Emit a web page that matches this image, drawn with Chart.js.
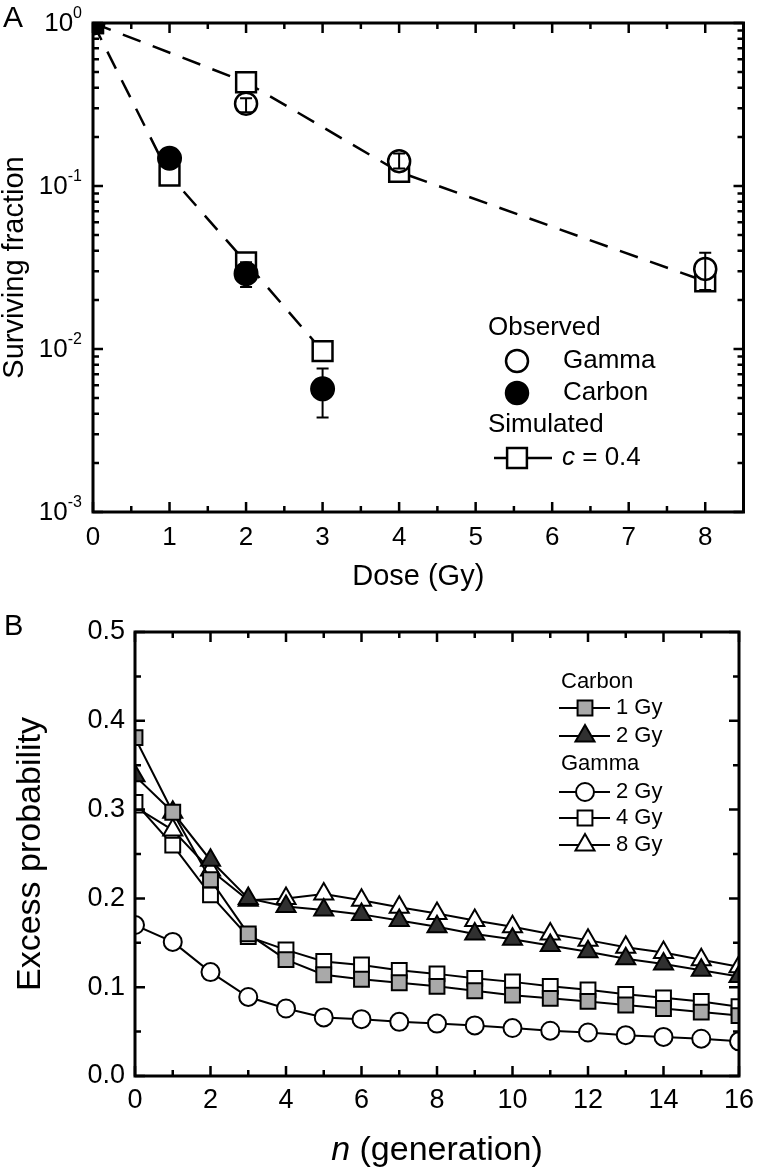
<!DOCTYPE html>
<html>
<head>
<meta charset="utf-8">
<script src="https://cdn.jsdelivr.net/npm/chart.js@4.4.0/dist/chart.umd.min.js"></script>
<style>
  html, body { margin: 0; padding: 0; background: #fff; }
  #wrap { position: relative; width: 760px; height: 1174px; }
  canvas { position: absolute; left: 0; }
  #chartA { top: 0; }
  #chartB { top: 600px; }
</style>
</head>
<body>
<div id="wrap">
  <canvas id="chartA" width="760" height="600"></canvas>
  <canvas id="chartB" width="760" height="574"></canvas>
</div>
<script>
const FONT = "'Liberation Sans', Arial, Helvetica, sans-serif";

// ---- panel A : surviving fraction ----
const doseGamma  = [0, 2, 4, 8];
const doseCarbon = [0, 1, 2, 3];
const obsGamma    = [1, 0.32, 0.142, 0.031];
const obsGammaLo  = [1, 0.283, 0.128, 0.023];
const obsGammaHi  = [1, 0.345, 0.158, 0.039];
const obsCarbon   = [1, 0.148, 0.029, 0.0057];
const obsCarbonLo = [1, 0.137, 0.024, 0.0038];
const obsCarbonHi = [1, 0.160, 0.034, 0.0076];
const simGamma  = [1, 0.433, 0.122, 0.026];
const simCarbon = [1, 0.116, 0.034, 0.0097];
const doseTicks   = [0, 1, 2, 3, 4, 5, 6, 7, 8];
const sfExponents = [0, -1, -2, -3];

// ---- panel B : excess probability ----
const generations = [0, 1, 2, 3, 4, 5, 6, 7, 8, 9, 10, 11, 12, 13, 14, 15, 16];
const carbon1Gy = [0.381, 0.297, 0.221, 0.160, 0.131, 0.114, 0.109, 0.105, 0.101, 0.096, 0.091, 0.0875, 0.084, 0.080, 0.076, 0.072, 0.068];
const carbon2Gy = [0.338, 0.297, 0.243, 0.200, 0.191, 0.187, 0.182, 0.175, 0.168, 0.160, 0.154, 0.147, 0.140, 0.132, 0.126, 0.119, 0.112];
const gamma2Gy  = [0.170, 0.151, 0.117, 0.089, 0.076, 0.066, 0.064, 0.061, 0.059, 0.057, 0.054, 0.051, 0.049, 0.046, 0.044, 0.042, 0.039];
const gamma4Gy  = [0.308, 0.260, 0.204, 0.157, 0.142, 0.129, 0.125, 0.119, 0.115, 0.110, 0.106, 0.101, 0.097, 0.092, 0.088, 0.084, 0.078];
const gamma8Gy  = [0.303, 0.277, 0.232, 0.198, 0.200, 0.205, 0.198, 0.190, 0.183, 0.175, 0.168, 0.160, 0.153, 0.145, 0.139, 0.131, 0.123];
const seriesGroups = ['Carbon', 'Carbon', 'Gamma', 'Gamma', 'Gamma'];
const seriesLabels = ['1 Gy', '2 Gy', '2 Gy', '4 Gy', '8 Gy'];
const genTicks  = [0, 2, 4, 6, 8, 10, 12, 14, 16];
const probTicks = [0, 0.1, 0.2, 0.3, 0.4, 0.5];

function pts(xs, ys){ return xs.map((x, i) => ({ x: x, y: ys[i] })); }

function txt(ctx, s, x, y, size, align, italic){
  ctx.font = (italic ? 'italic ' : '') + size + 'px ' + FONT;
  ctx.textAlign = align || 'left';
  ctx.textBaseline = 'middle';
  ctx.fillStyle = '#000';
  ctx.fillText(s, x, y);
}

function marker(ctx, style, x, y, r, fill, lw){
  ctx.save();
  ctx.fillStyle = fill; ctx.strokeStyle = '#000'; ctx.lineWidth = lw || 2;
  ctx.beginPath();
  if (style === 'circle') ctx.arc(x, y, r, 0, Math.PI * 2);
  else if (style === 'rect') { const s = r * Math.SQRT1_2; ctx.rect(x - s, y - s, 2 * s, 2 * s); }
  else {
    ctx.moveTo(x, y - r);
    ctx.lineTo(x + r * Math.sin(2 * Math.PI / 3), y - r * Math.cos(2 * Math.PI / 3));
    ctx.lineTo(x + r * Math.sin(4 * Math.PI / 3), y - r * Math.cos(4 * Math.PI / 3));
    ctx.closePath();
  }
  ctx.fill(); ctx.stroke();
  ctx.restore();
}

// inward ticks on all four sides
function ticks(chart, xv, yv, len){
  const { ctx, chartArea: a, scales: { x, y } } = chart;
  ctx.beginPath();
  xv.forEach(v => {
    const p = x.getPixelForValue(v);
    ctx.moveTo(p, a.bottom); ctx.lineTo(p, a.bottom - len);
    ctx.moveTo(p, a.top);    ctx.lineTo(p, a.top + len);
  });
  yv.forEach(v => {
    const p = y.getPixelForValue(v);
    ctx.moveTo(a.left, p);  ctx.lineTo(a.left + len, p);
    ctx.moveTo(a.right, p); ctx.lineTo(a.right - len, p);
  });
  ctx.stroke();
}

function frame(chart){
  const { ctx, chartArea: a } = chart;
  ctx.strokeStyle = '#000';
  ctx.lineWidth = 3;
  ctx.strokeRect(a.left, a.top, a.right - a.left, a.bottom - a.top);
  ctx.lineWidth = 2.5;
}

function rotated(ctx, s, x, y, size){
  ctx.save();
  ctx.translate(x, y); ctx.rotate(-Math.PI / 2);
  txt(ctx, s, 0, 0, size, 'center');
  ctx.restore();
}

// ---------- panel A ----------
const errorBars = {
  id: 'errorBars',
  afterDatasetsDraw(chart){
    const { ctx, chartArea: a, scales: { x, y } } = chart;
    const sets = [[doseGamma, obsGammaLo, obsGammaHi], [doseCarbon, obsCarbonLo, obsCarbonHi]];
    ctx.save();
    ctx.beginPath(); ctx.rect(a.left, a.top, a.right - a.left, a.bottom - a.top); ctx.clip();
    ctx.strokeStyle = '#000'; ctx.lineWidth = 2;
    sets.forEach(([xs, lo, hi]) => {
      xs.forEach((d, i) => {
        if (lo[i] === hi[i]) return;
        const px = x.getPixelForValue(d), y1 = y.getPixelForValue(lo[i]), y2 = y.getPixelForValue(hi[i]);
        ctx.beginPath();
        ctx.moveTo(px, y1); ctx.lineTo(px, y2);
        ctx.moveTo(px - 6, y1); ctx.lineTo(px + 6, y1);
        ctx.moveTo(px - 6, y2); ctx.lineTo(px + 6, y2);
        ctx.stroke();
      });
    });
    ctx.restore();
  }
};

const decorA = {
  id: 'decorA',
  afterDraw(chart){
    const { ctx, chartArea: a, scales: { x, y } } = chart;
    ctx.save();
    frame(chart);
    const minorX = doseTicks.slice(0, -1).map(v => v + 0.5);
    const minorY = [];
    sfExponents.slice(1).forEach(e => { for (let m = 2; m <= 9; m++) minorY.push(m * Math.pow(10, e)); });
    ticks(chart, doseTicks, sfExponents.map(e => Math.pow(10, e)), 10);
    ticks(chart, minorX, minorY, 6);

    doseTicks.forEach(v => txt(ctx, String(v), x.getPixelForValue(v), 538, 26, 'center'));
    sfExponents.forEach(e => {
      const py = y.getPixelForValue(Math.pow(10, e));
      ctx.font = '16px ' + FONT; const wSup = ctx.measureText(String(e)).width;
      ctx.font = '26px ' + FONT; const wBase = ctx.measureText('10').width;
      const x0 = 82 - wSup - wBase;
      txt(ctx, '10', x0, py + 1, 26, 'left');
      txt(ctx, String(e), x0 + wBase, py - 9, 16, 'left');
    });

    txt(ctx, 'Dose (Gy)', (a.left + a.right) / 2, 577, 29, 'center');
    rotated(ctx, 'Surviving fraction', 15, (a.top + a.bottom) / 2, 29);
    txt(ctx, 'A', 3, 19, 30, 'left');

    // legend
    txt(ctx, 'Observed', 488, 328, 26);
    marker(ctx, 'circle', 517, 361, 11, '#fff', 2.5);
    txt(ctx, 'Gamma', 563, 361, 26);
    marker(ctx, 'circle', 517, 393, 11, '#000', 2.5);
    txt(ctx, 'Carbon', 563, 393, 26);
    txt(ctx, 'Simulated', 488, 425, 26);
    ctx.beginPath(); ctx.lineWidth = 2.5; ctx.moveTo(494, 458); ctx.lineTo(552, 458); ctx.stroke();
    marker(ctx, 'rect', 517, 458, 14, '#fff', 2.5);
    txt(ctx, 'c', 562, 458, 26, 'left', true);
    ctx.font = 'italic 26px ' + FONT;
    const wc = ctx.measureText('c').width;
    txt(ctx, ' = 0.4', 562 + wc, 458, 26);
    ctx.restore();
  }
};

const simStyle = {
  showLine: true, borderColor: '#000', borderWidth: 2.5, borderDash: [19, 13],
  pointStyle: 'rect', pointRadius: 14, pointBackgroundColor: '#fff',
  pointBorderColor: '#000', pointBorderWidth: 2.5, clip: 0
};

new Chart(document.getElementById('chartA'), {
  type: 'scatter',
  data: {
    datasets: [
      { label: 'Carbon', data: pts(doseCarbon, obsCarbon), showLine: false, pointStyle: 'circle',
        pointRadius: 11.5, pointBackgroundColor: '#000', pointBorderColor: '#000', pointBorderWidth: 2, clip: 0 },
      { label: 'Gamma', data: pts(doseGamma, obsGamma), showLine: false, pointStyle: 'circle',
        pointRadius: 11, pointBackgroundColor: '#fff', pointBorderColor: '#000', pointBorderWidth: 2.5, clip: 0 },
      Object.assign({ label: 'c = 0.4 (carbon)', data: pts(doseCarbon, simCarbon) }, simStyle),
      Object.assign({ label: 'c = 0.4 (gamma)', data: pts(doseGamma, simGamma) }, simStyle)
    ]
  },
  options: {
    responsive: false, animation: false, events: [],
    layout: { padding: { left: 93, top: 23, right: 10, bottom: 88 } },
    plugins: { legend: { display: false }, tooltip: { enabled: false } },
    scales: {
      x: { type: 'linear', min: 0, max: 8.5, display: false },
      y: { type: 'logarithmic', min: 0.001, max: 1, display: false }
    }
  },
  plugins: [errorBars, decorA]
});

// ---------- panel B ----------
const styleB = [
  { pointStyle: 'rect', pointRadius: 10.5, pointBackgroundColor: '#a9a9a9' },
  { pointStyle: 'triangle', pointRadius: 11, pointBackgroundColor: '#303030' },
  { pointStyle: 'circle', pointRadius: 9, pointBackgroundColor: '#fff' },
  { pointStyle: 'rect', pointRadius: 10.5, pointBackgroundColor: '#fff' },
  { pointStyle: 'triangle', pointRadius: 11, pointBackgroundColor: '#fff' }
];
const valuesB = [carbon1Gy, carbon2Gy, gamma2Gy, gamma4Gy, gamma8Gy];

const decorB = {
  id: 'decorB',
  afterDraw(chart){
    const { ctx, chartArea: a, scales: { x, y } } = chart;
    ctx.save();
    frame(chart);
    ticks(chart, genTicks, probTicks, 10);
    ticks(chart, generations.filter(v => v % 2 === 1), probTicks.slice(0, -1).map(v => v + 0.05), 6);

    genTicks.forEach(v => txt(ctx, String(v), x.getPixelForValue(v), 501, 27, 'center'));
    probTicks.forEach(v => txt(ctx, v.toFixed(1), 125, y.getPixelForValue(v), 27, 'right'));

    // x title with italic n
    ctx.font = 'italic 34px ' + FONT; const wn = ctx.measureText('n').width;
    ctx.font = '34px ' + FONT; const wr = ctx.measureText(' (generation)').width;
    const x0 = (a.left + a.right) / 2 - (wn + wr) / 2;
    txt(ctx, 'n', x0, 551, 34, 'left', true);
    txt(ctx, ' (generation)', x0 + wn, 551, 34, 'left');
    rotated(ctx, 'Excess probability', 31, (a.top + a.bottom) / 2, 34);
    txt(ctx, 'B', 4, 27, 29, 'left');

    // legend
    const rowsY = [108, 136, 192, 218, 245];
    txt(ctx, 'Carbon', 561, 82, 22);
    txt(ctx, 'Gamma', 561, 164, 22);
    styleB.forEach((s, i) => {
      const yy = rowsY[i];
      ctx.beginPath(); ctx.lineWidth = 2; ctx.moveTo(559, yy); ctx.lineTo(610, yy); ctx.stroke();
      marker(ctx, s.pointStyle, 585, yy, s.pointRadius, s.pointBackgroundColor, 2);
      txt(ctx, seriesLabels[i], 616, yy, 22);
    });
    ctx.restore();
  }
};

new Chart(document.getElementById('chartB'), {
  type: 'scatter',
  data: {
    datasets: valuesB.map((vals, i) => Object.assign({
      label: seriesGroups[i] + ' ' + seriesLabels[i],
      data: pts(generations, vals),
      showLine: true, borderColor: '#000', borderWidth: 2,
      pointBorderColor: '#000', pointBorderWidth: 2, clip: 0
    }, styleB[i]))
  },
  options: {
    responsive: false, animation: false, events: [],
    layout: { padding: { left: 135, top: 32, right: 21, bottom: 98 } },
    plugins: { legend: { display: false }, tooltip: { enabled: false } },
    scales: {
      x: { type: 'linear', min: 0, max: 16, display: false },
      y: { type: 'linear', min: 0, max: 0.5, display: false }
    }
  },
  plugins: [decorB]
});
</script>
</body>
</html>
